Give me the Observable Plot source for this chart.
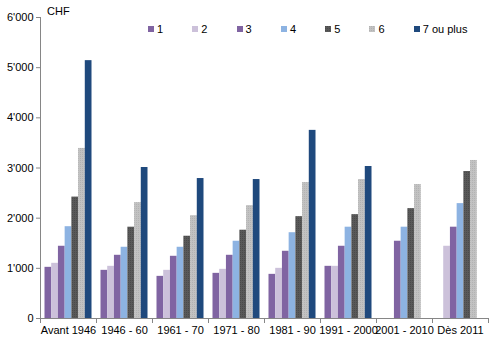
<!DOCTYPE html>
<html>
<head>
<meta charset="utf-8">
<script src="https://cdn.jsdelivr.net/npm/d3@7"></script>
<script src="https://cdn.jsdelivr.net/npm/@observablehq/plot@0.6"></script>
<style>
  html, body { margin: 0; padding: 0; background: #fff; }
  #wrap { position: relative; width: 492px; height: 340px; font-family: "Liberation Sans", Arial, sans-serif; font-size: 11px; color: #000; }
  #unit { position: absolute; left: 47px; top: 5px; font-size: 11px; }
  #legend { position: absolute; left: 148px; top: 22px; display: flex; }
  .item { width: 44.3px; flex: 0 0 auto; display: flex; align-items: center; white-space: nowrap; height: 14px; }
  .item:last-child { width: auto; }
  .item svg { margin-right: 3px; flex: 0 0 auto; }
</style>
</head>
<body>
<svg width="0" height="0" style="position:absolute">
  <defs>
    <pattern id="pat5" width="2" height="2" patternUnits="userSpaceOnUse">
      <rect width="2" height="2" fill="#595959"></rect>
      <rect width="1" height="1" fill="#4a4a4a"></rect>
    </pattern>
    <pattern id="pat6" width="2" height="2" patternUnits="userSpaceOnUse">
      <rect width="2" height="2" fill="#c2c2c2"></rect>
      <rect width="1" height="1" fill="#b2b2b2"></rect>
    </pattern>
  </defs>
</svg>
<div id="wrap">
  <div id="chart"></div>
  <div id="unit">CHF</div>
  <div id="legend"></div>
</div>
<script>
const categories = ["Avant 1946", "1946 - 60", "1961 - 70", "1971 - 80", "1981 - 90", "1991 - 2000", "2001 - 2010", "Dès 2011"];
const series = ["1", "2", "3", "4", "5", "6", "7 ou plus"];
const s1 = [1020, 960, 840, 900, 880, 1040, null, null];
const s2 = [1100, 1040, 960, 980, 1000, 1040, null, 1440];
const s3 = [1440, 1260, 1240, 1260, 1340, 1440, 1540, 1820];
const s4 = [1830, 1420, 1420, 1540, 1710, 1820, 1820, 2290];
const s5 = [2420, 1820, 1640, 1760, 2030, 2070, 2190, 2930];
const s6 = [3390, 2310, 2050, 2250, 2710, 2770, 2670, 3150];
const s7 = [5140, 3010, 2790, 2770, 3750, 3030, null, null];
const yTicks = [0, 1000, 2000, 3000, 4000, 5000, 6000];
const colors = ["#8064a2", "#ccc1da", "#8064a2", "#8db3e2", "url(#pat5)", "url(#pat6)", "#1f497d"];

const seriesValues = [s1, s2, s3, s4, s5, s6, s7];
const rows = [];
seriesValues.forEach((vals, si) => vals.forEach((v, ci) => {
  if (v != null) rows.push({cat: categories[ci], s: series[si], v});
}));

const fmt = d => d === 0 ? "0" : d3.format(",")(d).replace(/,/g, "'");
const band = 56, pad = 4.5, w = 47 / 7;
const axisColor = "#868686";

const barMarks = series.map((s, i) => Plot.barY(rows.filter(r => r.s === s), {
  x: "cat", y: "v", fill: colors[i],
  insetLeft: pad + i * w, insetRight: pad + (6 - i) * w
}));

const chart = Plot.plot({
  width: 492, height: 340,
  marginTop: 17, marginBottom: 22, marginLeft: 40, marginRight: 4,
  style: {fontFamily: "'Liberation Sans', Arial, sans-serif", fontSize: "11px", color: "#000", background: "#fff"},
  x: {domain: categories, padding: 0},
  y: {domain: [0, 6000]},
  marks: [
    ...barMarks,
    Plot.ruleY([0], {stroke: axisColor}),
    Plot.ruleX([categories[0]], {dx: -band / 2, stroke: axisColor}),
    Plot.axisY({ticks: yTicks, tickFormat: fmt, tickSize: 4, tickPadding: 3, stroke: axisColor, fill: "#000", label: null}),
    Plot.axisX({tickSize: 0, tickPadding: 8, fill: "#000", label: null}),
    Plot.axisX({tickSize: 5, dx: -band / 2, fill: "none", stroke: axisColor, label: null}),
    Plot.axisX({ticks: [categories[categories.length - 1]], tickSize: 5, dx: band / 2, fill: "none", stroke: axisColor, label: null})
  ]
});
document.getElementById("chart").appendChild(chart);

const legend = document.getElementById("legend");
series.forEach((s, i) => {
  const item = document.createElement("div");
  item.className = "item";
  item.innerHTML = `<svg width="6" height="6"><rect width="6" height="6" fill="${colors[i]}"></rect></svg><span>${s}</span>`;
  legend.appendChild(item);
});
</script>
</body>
</html>
